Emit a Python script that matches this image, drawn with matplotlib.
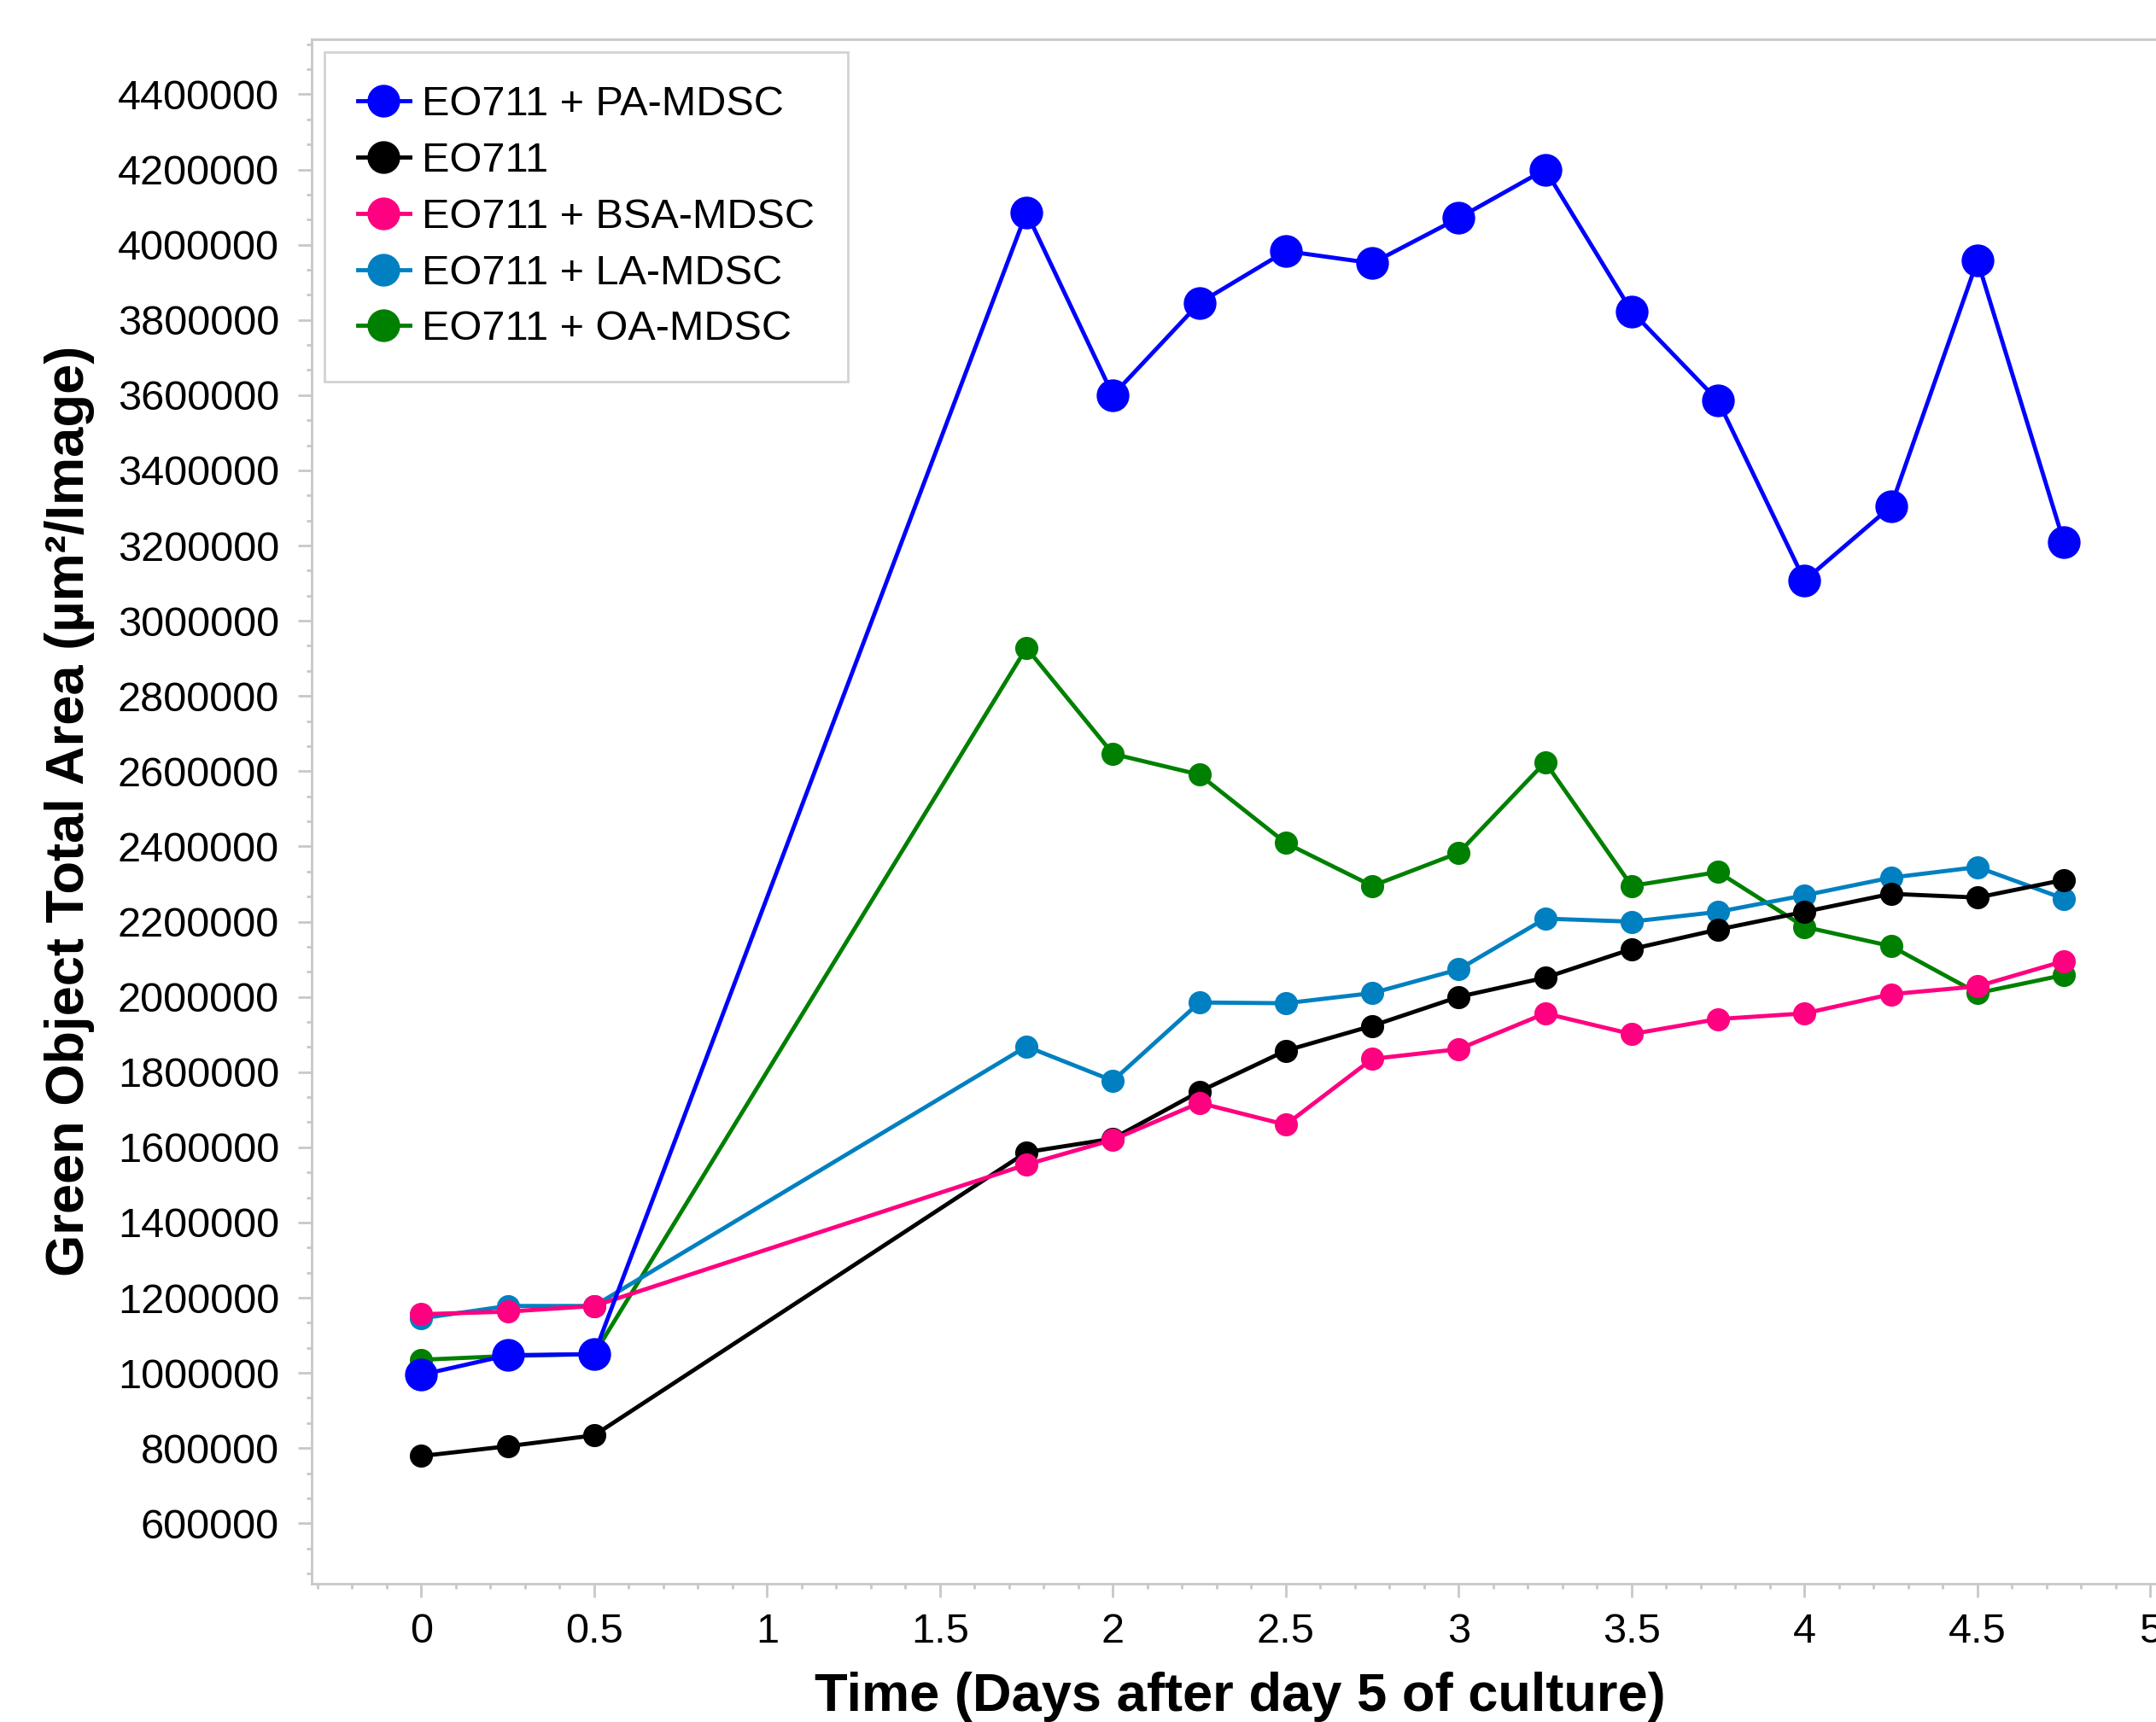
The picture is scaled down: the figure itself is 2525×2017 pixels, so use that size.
import matplotlib
matplotlib.use("Agg")
import matplotlib.pyplot as plt
from matplotlib.ticker import MultipleLocator, AutoMinorLocator, FuncFormatter

plt.rcParams['font.family'] = ['Liberation Sans', 'DejaVu Sans']

# time points (days after day 5 of culture)
days = [0, 0.25, 0.5, 1.75, 2.0, 2.25, 2.5, 2.75, 3.0, 3.25, 3.5, 3.75, 4.0, 4.25, 4.5, 4.75]

pa_mdsc = [995000, 1047000, 1050000, 4086000, 3600000, 3845000, 3983000, 3951000,
           4071000, 4200000, 3823000, 3585000, 3107000, 3304000, 3958000, 3209000]
eo711 = [779000, 805000, 834000, 1587000, 1623000, 1748000, 1857000, 1923000,
         2000000, 2051000, 2127000, 2179000, 2226000, 2274000, 2264000, 2311000]
bsa_mdsc = [1156000, 1163000, 1178000, 1554000, 1620000, 1718000, 1660000, 1835000,
            1861000, 1956000, 1901000, 1941000, 1956000, 2007000, 2028000, 2095000]
la_mdsc = [1145000, 1178000, 1178000, 1868000, 1777000, 1985000, 1983000, 2010000,
           2073000, 2208000, 2200000, 2226000, 2270000, 2317000, 2345000, 2261000]
oa_mdsc = [1035000, 1045000, 1050000, 2928000, 2646000, 2591000, 2409000, 2295000,
           2383000, 2624000, 2295000, 2332000, 2186000, 2135000, 2010000, 2058000]

labels = ['EO711 + PA-MDSC', 'EO711', 'EO711 + BSA-MDSC', 'EO711 + LA-MDSC', 'EO711 + OA-MDSC']
colors = ['#0000FF', '#000000', '#FF0080', '#0080C0', '#008000']

W, H = 2525, 2017
fig = plt.figure(figsize=(W / 100, H / 100), dpi=100)

x0, x1 = -0.317, 5.2
left_px, bottom_px, top_px = 365, 1855, 45.7
px_per_unit = 405
ax = fig.add_axes([left_px / W, (H - bottom_px) / H,
                   (x1 - x0) * px_per_unit / W, (bottom_px - top_px) / H])

series = [pa_mdsc, eo711, bsa_mdsc, la_mdsc, oa_mdsc]
sizes = [26.6, 18.5, 18.5, 18.5, 18.5]
zorders = [6, 4, 5, 3, 2]
for vals, lab, col, ms, z in zip(series, labels, colors, sizes, zorders):
    ax.plot(days, vals, '-o', color=col, lw=3.5, ms=ms, label=lab, zorder=z)

ax.set_xlim(x0, x1)
ax.set_ylim(439500, 4547000)

ax.xaxis.set_major_locator(MultipleLocator(0.5))
ax.xaxis.set_minor_locator(AutoMinorLocator(5))
ax.xaxis.set_major_formatter(FuncFormatter(lambda v, p: '%g' % v))
ax.yaxis.set_major_locator(MultipleLocator(200000))
ax.yaxis.set_minor_locator(AutoMinorLocator(3))
ax.yaxis.set_major_formatter(FuncFormatter(lambda v, p: '%d' % round(v)))

grey = '#C8C8C8'
for s in ['left', 'bottom', 'top']:
    ax.spines[s].set_color(grey)
    ax.spines[s].set_linewidth(2)
ax.spines['right'].set_visible(False)

ax.tick_params(which='major', length=11.3, width=2, color=grey, labelsize=35)
ax.tick_params(which='minor', length=4.5, width=2, color=grey)
ax.tick_params(axis='y', which='major', pad=16)
ax.tick_params(axis='x', which='major', pad=13)

ax.set_xlabel('Time (Days after day 5 of culture)', fontsize=45.5, fontweight='bold')
ax.xaxis.set_label_coords((1452 - left_px) / ((x1 - x0) * px_per_unit),
                          -(1958 - bottom_px) / (bottom_px - top_px))
ax.xaxis.label.set_va('top')
ax.set_ylabel('Green Object Total Area (µm²/Image)', fontsize=45.5, fontweight='bold',
              labelpad=19)

leg = ax.legend(loc='upper left', bbox_to_anchor=(380 / W, 1 - 61 / H),
                bbox_transform=fig.transFigure, borderaxespad=0, fontsize=35,
                frameon=True, fancybox=False, edgecolor=grey, handlelength=1.25,
                handletextpad=0.3, borderpad=0.8, labelspacing=0.43)
leg.get_frame().set_linewidth(2)
for h in leg.legend_handles:
    h.set_markersize(26.6)

fig.savefig('out.png', dpi=100)
